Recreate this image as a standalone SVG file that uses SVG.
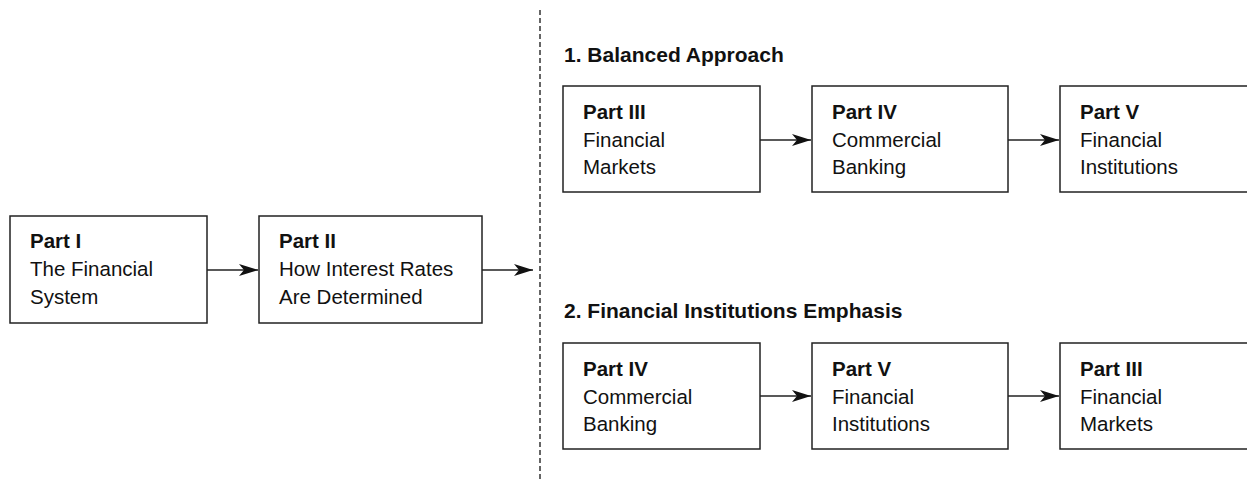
<svg xmlns="http://www.w3.org/2000/svg" width="1247" height="482" viewBox="0 0 1247 482">
<style>
.box{fill:#fff;stroke:#222;stroke-width:1.5}
.t{font-family:"Liberation Sans",Arial,Helvetica,sans-serif;font-size:20.5px;fill:#111}
.b{font-weight:bold}
.h{font-family:"Liberation Sans",Arial,Helvetica,sans-serif;font-size:21px;font-weight:bold;fill:#111}
.c{stroke:#222;stroke-width:1.5;fill:none;marker-end:url(#ah)}
.d{stroke:#333;stroke-width:1.5;stroke-dasharray:5 3;fill:none}
</style>
<defs>
<marker id="ah" viewBox="0 0 19 12" refX="19" refY="6" markerWidth="19" markerHeight="12" markerUnits="userSpaceOnUse" orient="auto">
<path d="M0,0 L19,6 L0,12 L5,6 z" fill="#111"/>
</marker>
</defs>
<g id="connectors">
<line class="c" x1="207" y1="270" x2="258" y2="270"/>
<line class="c" x1="482" y1="270" x2="533" y2="270"/>
<line class="c" x1="760" y1="140" x2="811" y2="140"/>
<line class="c" x1="1008" y1="140" x2="1059" y2="140"/>
<line class="c" x1="760" y1="396" x2="811" y2="396"/>
<line class="c" x1="1008" y1="396" x2="1059" y2="396"/>
<line class="d" x1="540" y1="10" x2="540" y2="480"/>
</g>
<g id="title1"><text class="h" x="564" y="62">1. Balanced Approach</text></g>
<g id="title2"><text class="h" x="564" y="318">2. Financial Institutions Emphasis</text></g>
<g id="part1">
<rect class="box" x="10" y="216" width="197" height="107"/>
<text class="t"><tspan class="b" x="30" y="248">Part I</tspan><tspan x="30" y="276">The Financial</tspan><tspan x="30" y="304">System</tspan></text>
</g>
<g id="part2">
<rect class="box" x="259" y="216" width="223" height="107"/>
<text class="t"><tspan class="b" x="279" y="248">Part II</tspan><tspan x="279" y="276">How Interest Rates</tspan><tspan x="279" y="304">Are Determined</tspan></text>
</g>
<g id="r1-part3">
<rect class="box" x="563" y="86" width="197" height="106"/>
<text class="t"><tspan class="b" x="583" y="119">Part III</tspan><tspan x="583" y="147">Financial</tspan><tspan x="583" y="174">Markets</tspan></text>
</g>
<g id="r1-part4">
<rect class="box" x="812" y="86" width="196" height="106"/>
<text class="t"><tspan class="b" x="832" y="119">Part IV</tspan><tspan x="832" y="147">Commercial</tspan><tspan x="832" y="174">Banking</tspan></text>
</g>
<g id="r1-part5">
<rect class="box" x="1060" y="86" width="197" height="106"/>
<text class="t"><tspan class="b" x="1080" y="119">Part V</tspan><tspan x="1080" y="147">Financial</tspan><tspan x="1080" y="174">Institutions</tspan></text>
</g>
<g id="r2-part4">
<rect class="box" x="563" y="343" width="197" height="106"/>
<text class="t"><tspan class="b" x="583" y="376">Part IV</tspan><tspan x="583" y="404">Commercial</tspan><tspan x="583" y="431">Banking</tspan></text>
</g>
<g id="r2-part5">
<rect class="box" x="812" y="343" width="196" height="106"/>
<text class="t"><tspan class="b" x="832" y="376">Part V</tspan><tspan x="832" y="404">Financial</tspan><tspan x="832" y="431">Institutions</tspan></text>
</g>
<g id="r2-part3">
<rect class="box" x="1060" y="343" width="197" height="106"/>
<text class="t"><tspan class="b" x="1080" y="376">Part III</tspan><tspan x="1080" y="404">Financial</tspan><tspan x="1080" y="431">Markets</tspan></text>
</g>
</svg>
